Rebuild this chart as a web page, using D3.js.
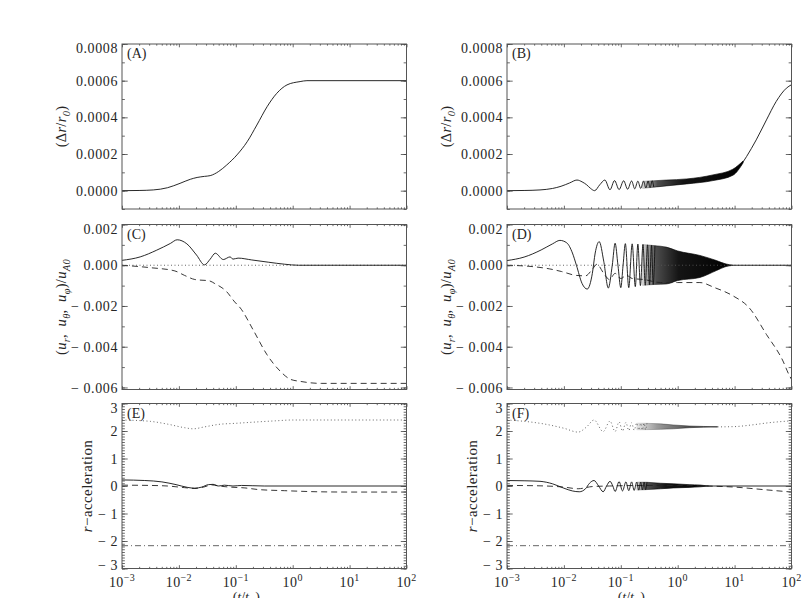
<!DOCTYPE html>
<html>
<head>
<meta charset="utf-8">
<script src="https://d3js.org/d3.v7.min.js"></script>
<style>
  body { margin: 0; background: #fff; }
  text { font-family: 'Liberation Serif', 'DejaVu Serif', serif; fill: #262626; }
</style>
</head>
<body>
<svg id="fig" width="812" height="598"></svg>
<script>
  // x values are log10(t/tA)
  const decades = [-3, -2, -1, 0, 1, 2];

  // y ticks
  const yTicksDr = [0, 0.0002, 0.0004, 0.0006, 0.0008];
  const yTicksU = [-0.006, -0.004, -0.002, 0, 0.002];
  const yTicksAcc = [-3, -2, -1, 0, 1, 2, 3];

  // (A) left, dr/r0
  const drA = [[-3,0],[-2.7,0.000001],[-2.45,0.000004],[-2.2,0.000016],[-1.98,0.00004],[-1.8,0.000062],
    [-1.68,0.000072],[-1.55,0.000078],[-1.45,0.000082],[-1.3,0.000105],[-1.16,0.00014],[-0.98,0.000195],
    [-0.8,0.000267],[-0.63,0.000358],[-0.45,0.000458],[-0.28,0.000531],[-0.1,0.000577],[0.13,0.000595],
    [0.25,0.0006],[2,0.0006]];

  // (B) right, dr/r0 : resolved wiggles, dense band [x, hi, lo], tail
  const drB = [[-3,0],[-2.7,0.000001],[-2.42,0.000004],[-2.2,0.000012],[-2.05,0.000024],[-1.9,0.000042],
    [-1.77,0.000058],[-1.68,0.000048],[-1.6,0.000032],[-1.53,0.000012],[-1.46,0],[-1.37,0.000032],
    [-1.28,0.000058],[-1.19,0.000005],[-1.11,0.000055],[-1.03,0.000006],[-0.95,0.000054],[-0.88,0.000008],
    [-0.81,0.000053],[-0.755,0.00001],[-0.70,0.000052],[-0.65,0.000012],[-0.60,0.000052],[-0.56,0.000015],
    [-0.52,0.000053],[-0.485,0.000017],[-0.45,0.000054],[-0.42,0.000019]];
  const drBband = [[-0.62,0.000052,0.000012],[-0.42,0.000054,0.000019],[-0.2,0.000058,0.000026],
    [0.16,0.000064,0.000037],[0.62,0.000086,0.000055],[0.97,0.000117,0.000084],[1.15,0.000162,0.000152]];
  const drBtail = [[1.15,0.000157],[1.21,0.000186],[1.38,0.000277],[1.56,0.000386],[1.73,0.000486],
    [1.91,0.000559],[2,0.000578]];

  // (C) left velocities
  const urC = [[-3,0.00024],[-2.68,0.00041],[-2.39,0.00074],[-2.15,0.00107],[-2.03,0.00125],[-1.86,0.00105],
    [-1.69,0.0005],[-1.55,0.00002],[-1.45,0.0003],[-1.36,0.00059],[-1.22,0.00028],[-1.10,0.00041],
    [-1.05,0.0003],[-0.96,0.00035],[-0.72,0.00026],[-0.43,0.00015],[-0.14,0.00005],[0.1,0],[2,0]];
  const uthC = [[-3,0],[2,0]];
  const uphC = [[-3,0],[-2.5,-0.00012],[-2.07,-0.00028],[-1.9,-0.0005],[-1.72,-0.0007],[-1.46,-0.00077],
    [-1.37,-0.0009],[-1.16,-0.0013],[-1.02,-0.0018],[-0.92,-0.0021],[-0.69,-0.0032],[-0.45,-0.0044],
    [-0.22,-0.0052],[-0.04,-0.0056],[0.13,-0.0057],[0.5,-0.0058],[2,-0.0058]];

  // (D) right velocities
  const urD = [[-3,0.00023],[-2.7,0.0004],[-2.4,0.00075],[-2.2,0.00105],[-2.07,0.00122],[-1.95,0.0011],
    [-1.85,0.0006],[-1.78,0],[-1.68,-0.0009],[-1.59,-0.00117],[-1.5,-0.0004],[-1.45,0.0006],[-1.38,0.00116],
    [-1.3,0.0002],[-1.22,-0.00112],[-1.15,0],[-1.10,0.00108],[-1.05,0],[-1.00,-0.0011],[-0.96,0],
    [-0.92,0.00106],[-0.86,-0.0011],[-0.80,0.00105],[-0.745,-0.00105],[-0.70,0.00104],[-0.655,-0.001],
    [-0.61,0.00102],[-0.57,-0.00098],[-0.53,0.001],[-0.495,-0.00096],[-0.46,0.00098],[-0.43,-0.00094],
    [-0.40,0.00096]];
  const urDband = [[-0.62,0.00102,-0.00099],[-0.40,0.00096,-0.00094],[-0.2,0.00089,-0.00092],[0.0,0.0007,-0.00075],
    [0.39,0.00048,-0.0006],[0.68,0.00023,-0.00026],[0.85,0.00006,-0.00006],[0.97,0.000005,-0.000005]];
  const urDtail = [[0.97,0],[2,0]];
  const uthD = [[-3,0],[2,0]];
  const uphD = [[-3,0],[-2.54,-0.00007],[-2.25,-0.00018],[-2.04,-0.00031],[-1.78,-0.0005],[-1.62,-0.00052],
    [-1.5,-0.0002],[-1.42,0.00005],[-1.3,-0.0004],[-1.2,-0.0007],[-1.1,-0.0004],[-1.0,-0.00065],
    [-0.9,-0.0005],[-0.8,-0.00065],[-0.6,-0.0007],[-0.3,-0.00085],[0,-0.00085],[0.39,-0.00085],
    [0.65,-0.0011],[0.97,-0.0015],[1.26,-0.0021],[1.56,-0.0034],[1.85,-0.0047],[1.96,-0.0054],[2,-0.0056]];

  // (E) left r-acceleration terms
  const accEdot = [[-3,2.4],[-2.5,2.35],[-2.2,2.25],[-1.9,2.12],[-1.75,2.08],[-1.55,2.15],[-1.3,2.24],
    [-1.0,2.28],[-0.7,2.32],[-0.3,2.37],[0,2.4],[2,2.4]];
  const accEsolid = [[-3,0.22],[-2.6,0.2],[-2.3,0.15],[-2.05,0.05],[-1.85,-0.05],[-1.72,-0.08],[-1.6,-0.04],
    [-1.48,0.05],[-1.4,0.06],[-1.3,0.0],[-1.2,0.03],[-1.05,0.0],[-0.9,0.02],[-0.5,0.0],[2,0]];
  const accEdash = [[-3,0.03],[-2.5,0.02],[-2.2,0.0],[-1.9,-0.06],[-1.72,-0.09],[-1.55,-0.03],[-1.42,0.04],
    [-1.3,0.0],[-1.1,-0.04],[-0.84,-0.07],[-0.6,-0.13],[-0.14,-0.17],[0.45,-0.21],[1,-0.22],[2,-0.22]];
  const accEdashdot = [[-3,-2.17],[2,-2.17]];

  // (F) right r-acceleration terms
  const accFdot = [[-3,2.4],[-2.6,2.33],[-2.36,2.26],[-2.0,2.1],[-1.75,1.96],[-1.6,2.15],[-1.47,2.4],
    [-1.31,1.98],[-1.19,2.36],[-1.10,1.98],[-1.03,2.33],[-0.97,2.0],[-0.91,2.31],[-0.86,2.02],[-0.81,2.3],
    [-0.765,2.03],[-0.72,2.29],[-0.685,2.04],[-0.65,2.28],[-0.62,2.04],[-0.59,2.28],[-0.565,2.05],[-0.54,2.28]];
  const accFdotBand = [[-0.72,2.29,2.04],[-0.54,2.28,2.05],[-0.3,2.26,2.06],[-0.08,2.22,2.08],[0.2,2.18,2.12],
    [0.45,2.165,2.14],[0.7,2.155,2.145]];
  const accFdotTail = [[0.7,2.15],[1.0,2.16],[1.3,2.22],[1.6,2.3],[2,2.37]];
  const accFsolid = [[-3,0.2],[-2.7,0.19],[-2.42,0.17],[-2.2,0.08],[-2.0,-0.08],[-1.85,-0.18],[-1.73,-0.21],
    [-1.62,-0.1],[-1.55,0.1],[-1.47,0.2],[-1.39,0],[-1.31,-0.21],[-1.25,0],[-1.19,0.17],[-1.14,0],
    [-1.10,-0.2],[-1.03,0.16],[-0.97,-0.18],[-0.91,0.15],[-0.86,-0.17],[-0.81,0.15],[-0.765,-0.16],
    [-0.72,0.145],[-0.685,-0.15],[-0.65,0.14],[-0.62,-0.145],[-0.59,0.14],[-0.565,-0.14],[-0.54,0.135]];
  const accFsolidBand = [[-0.72,0.145,-0.15],[-0.54,0.135,-0.13],[-0.3,0.1,-0.1],[-0.08,0.08,-0.07],
    [0.2,0.05,-0.05],[0.39,0.035,-0.03],[0.55,0,0]];
  const accFsolidTail = [[0.55,0],[2,0]];
  const accFdash = [[-3,0.02],[-2.5,0.01],[-2.0,-0.04],[-1.75,-0.1],[-1.5,-0.02],[-1.2,0.0],[-0.5,0.02],
    [0,0.02],[0.5,0.0],[1.0,-0.04],[1.5,-0.13],[2,-0.22]];
  const accFdashdot = [[-3,-2.17],[2,-2.17]];

  // layout
  const colX = [122, 507];
  const rowY = [44, 224.5, 403.5];
  const pw = 284.5, ph = 165;

  const svg = d3.select('#fig');
  svg.append('rect').attr('width', 812).attr('height', 598).attr('fill', '#fff');

  const defs = svg.append('defs');
  function grad(id, colour, stops) {
    const gr = defs.append('linearGradient').attr('id', id);
    stops.forEach(([o, a]) => gr.append('stop').attr('offset', o).attr('stop-color', colour).attr('stop-opacity', a));
  }
  grad('bandBlack', '#000', [[0, 0.15], [0.15, 0.7], [0.4, 0.92], [1, 1]]);
  grad('bandGrey', '#222', [[0, 0.1], [0.25, 0.45], [0.6, 0.75], [1, 0.95]]);

  const styles = {
    solid:   { color: '#111', dash: null },
    dashed:  { color: '#222', dash: '6,4' },
    dotted:  { color: '#555', dash: '1,2.5' },
    dashdot: { color: '#555', dash: '6,3,1,3' }
  };

  const fmtDr = d3.format('.4f'), fmtU = d3.format('.3f'), fmtAcc = d3.format('d');

  const panels = [
    { tag: '(A)', col: 0, row: 0, dom: [-0.0001, 0.0008], ticks: yTicksDr, fmt: fmtDr, minor: 10, title: 'dr',
      lines: [[drA, 'solid']], bands: [] },
    { tag: '(B)', col: 1, row: 0, dom: [-0.0001, 0.0008], ticks: yTicksDr, fmt: fmtDr, minor: 10, title: 'dr',
      lines: [[drB, 'solid'], [drBtail, 'solid']], bands: [[drBband, 'bandBlack']] },
    { tag: '(C)', col: 0, row: 1, dom: [-0.0061, 0.002], ticks: yTicksU, fmt: fmtU, minor: 8, title: 'u',
      lines: [[uthC, 'dotted'], [uphC, 'dashed'], [urC, 'solid']], bands: [] },
    { tag: '(D)', col: 1, row: 1, dom: [-0.0061, 0.002], ticks: yTicksU, fmt: fmtU, minor: 8, title: 'u',
      lines: [[uthD, 'dotted'], [uphD, 'dashed'], [urD, 'solid'], [urDtail, 'solid']], bands: [[urDband, 'bandBlack']] },
    { tag: '(E)', col: 0, row: 2, dom: [-3, 3], ticks: yTicksAcc, fmt: fmtAcc, minor: 60, title: 'acc',
      lines: [[accEdashdot, 'dashdot'], [accEdot, 'dotted'], [accEdash, 'dashed'], [accEsolid, 'solid']], bands: [] },
    { tag: '(F)', col: 1, row: 2, dom: [-3, 3], ticks: yTicksAcc, fmt: fmtAcc, minor: 60, title: 'acc',
      lines: [[accFdashdot, 'dashdot'], [accFdot, 'dotted'], [accFdotTail, 'dotted'], [accFdash, 'dashed'],
              [accFsolid, 'solid'], [accFsolidTail, 'solid']],
      bands: [[accFdotBand, 'bandGrey'], [accFsolidBand, 'bandBlack']] }
  ];

  function rich(t, parts, size) {
    let sub = false;
    parts.forEach(([s, k]) => {
      const ts = t.append('tspan').text(s);
      if (k.includes('i')) ts.attr('font-style', 'italic');
      if (k.includes('s')) {
        ts.attr('font-size', size * 0.72);
        if (!sub) { ts.attr('dy', size * 0.3); sub = true; }
      } else if (sub) { ts.attr('dy', -size * 0.3); sub = false; }
    });
  }

  const titles = {
    dr: [['(\u0394', 'n'], ['r', 'i'], ['/', 'n'], ['r', 'i'], ['0', 'is'], [')', 'n']],
    u: [['(', 'n'], ['u', 'i'], ['r', 'is'], [',\u2002', 'n'], ['u', 'i'], ['\u03b8', 'is'], [',\u2002', 'n'],
        ['u', 'i'], ['\u03c6', 'is'], [')/', 'n'], ['u', 'i'], ['A0', 'is']],
    acc: [['r', 'i'], ['\u2212acceleration', 'n']]
  };

  panels.forEach(p => {
    const x0 = colX[p.col], y0 = rowY[p.row];
    const g = svg.append('g').attr('transform', `translate(${x0},${y0})`);
    const x = d3.scaleLog().domain([1e-3, 1e2]).range([0, pw]);
    const y = d3.scaleLinear().domain(p.dom).range([ph, 0]);
    const X = d => x(Math.pow(10, d[0]));

    const clip = 'clip' + p.tag.replace(/\W/g, '');
    defs.append('clipPath').attr('id', clip).append('rect').attr('width', pw).attr('height', ph);
    const plot = g.append('g').attr('clip-path', `url(#${clip})`);

    p.bands.forEach(([b, fill]) => {
      plot.append('path').datum(b)
        .attr('d', d3.area().x(X).y0(d => y(d[2])).y1(d => y(d[1])).curve(d3.curveMonotoneX))
        .attr('fill', `url(#${fill})`).attr('stroke', `url(#${fill})`).attr('stroke-width', 0.7);
    });

    p.lines.forEach(([data, st]) => {
      const s = styles[st];
      plot.append('path').datum(data)
        .attr('d', d3.line().x(X).y(d => y(d[1])).curve(d3.curveMonotoneX))
        .attr('fill', 'none').attr('stroke', s.color).attr('stroke-width', 0.9)
        .attr('stroke-dasharray', s.dash);
    });

    // IDL style inward ticks on all four sides
    const majorX = decades.map(d => Math.pow(10, d));
    const minorX = x.ticks().filter(v => !majorX.some(m => Math.abs(m - v) / m < 1e-9));
    const lenX = 0.02 * ph, lenY = 0.02 * pw;
    const majorY = p.ticks;
    const minorY = y.ticks(p.minor);
    const styleAxis = a => {
      a.select('.domain').remove();
      a.selectAll('line').attr('stroke', '#444').attr('stroke-width', 0.8);
      a.selectAll('text').remove();
    };
    g.append('g').attr('transform', `translate(0,${ph})`).call(d3.axisBottom(x).tickValues(majorX).tickSize(-lenX)).call(styleAxis);
    g.append('g').attr('transform', `translate(0,${ph})`).call(d3.axisBottom(x).tickValues(minorX).tickSize(-lenX / 2)).call(styleAxis);
    g.append('g').call(d3.axisTop(x).tickValues(majorX).tickSize(-lenX)).call(styleAxis);
    g.append('g').call(d3.axisTop(x).tickValues(minorX).tickSize(-lenX / 2)).call(styleAxis);
    g.append('g').call(d3.axisLeft(y).tickValues(majorY).tickSize(-lenY)).call(styleAxis);
    g.append('g').call(d3.axisLeft(y).tickValues(minorY).tickSize(-lenY / 2)).call(styleAxis);
    g.append('g').attr('transform', `translate(${pw},0)`).call(d3.axisRight(y).tickValues(majorY).tickSize(-lenY)).call(styleAxis);
    g.append('g').attr('transform', `translate(${pw},0)`).call(d3.axisRight(y).tickValues(minorY).tickSize(-lenY / 2)).call(styleAxis);

    g.append('rect').attr('width', pw).attr('height', ph)
      .attr('fill', 'none').attr('stroke', '#555').attr('stroke-width', 1);

    // y tick labels (labels sitting on the frame edge are nudged inward, as in the original)
    majorY.forEach(v => {
      let yy = y(v);
      if (yy < 1) yy += 4;
      if (yy > ph - 1) yy -= 4;
      const t = g.append('text').attr('x', -4).attr('y', yy).attr('dy', '0.36em')
        .attr('text-anchor', 'end').attr('font-size', 14).attr('letter-spacing', 0.6);
      const s = p.fmt(Math.abs(v));
      if (v < 0) {
        t.append('tspan').text('\u2212');
        t.append('tspan').attr('dx', 4).text(s);
      } else t.text(s);
    });

    // x tick labels on the bottom row
    if (p.row === 2) {
      decades.forEach(d => {
        const t = g.append('text').attr('x', x(Math.pow(10, d))).attr('y', ph + 18)
          .attr('text-anchor', 'middle').attr('font-size', 14).attr('letter-spacing', 0.4);
        t.append('tspan').text('10');
        t.append('tspan').attr('dy', -6).attr('font-size', 10).text(d < 0 ? '\u2212' + (-d) : String(d));
      });
      const xt = g.append('text').attr('x', pw / 2 - 18).attr('y', ph + 33)
        .attr('text-anchor', 'middle').attr('font-size', 14);
      rich(xt, [['(', 'n'], ['t', 'i'], ['/', 'n'], ['t', 'i'], ['A', 'is'], [')', 'n']], 14);
    }

    // panel tag
    g.append('text').attr('x', 5).attr('y', 14).attr('font-size', 14).text(p.tag);

    // y title
    const acc = p.title === 'acc';
    const yt = g.append('text').attr('transform', `translate(${acc ? -35 : -61},${ph / 2}) rotate(-90)`)
      .attr('text-anchor', 'middle').attr('dy', '0.35em').attr('font-size', acc ? 15 : 14.5)
      .attr('letter-spacing', acc ? 0.4 : 0.3);
    rich(yt, titles[p.title], acc ? 15 : 14.5);
  });
</script>
</body>
</html>
